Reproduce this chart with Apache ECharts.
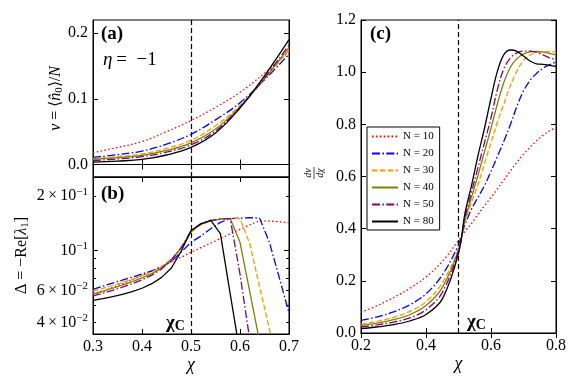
<!DOCTYPE html>
<html>
<head>
<meta charset="utf-8">
<script src="https://cdn.jsdelivr.net/npm/echarts@6/dist/echarts.min.js"></script>
<style>
  html, body { margin: 0; padding: 0; background: #fff; }
  #chart { width: 581px; height: 388px; }
</style>
</head>
<body>
<div id="chart"></div>
<script>
// critical point chi_c
const chiCrit = 0.5

// panel (a): nu = <n0>/N vs chi
const chiA = [0.30, 0.35, 0.40, 0.45, 0.50, 0.55, 0.60, 0.65, 0.70]
const nuA10 = [0.018, 0.026, 0.035, 0.050, 0.067, 0.087, 0.110, 0.139, 0.172]
const nuA20 = [0.011, 0.015, 0.0205, 0.031, 0.046, 0.068, 0.094, 0.129, 0.168]
const nuA30 = [0.009, 0.012, 0.016, 0.0245, 0.037, 0.059, 0.090, 0.130, 0.174]
const nuA40 = [0.008, 0.0105, 0.014, 0.0215, 0.033, 0.054, 0.088, 0.131, 0.178]
const nuA50 = [0.006, 0.0085, 0.012, 0.019, 0.030, 0.051, 0.087, 0.132, 0.182]
const nuA80 = [0.0036, 0.0052, 0.0077, 0.0145, 0.026, 0.048, 0.086, 0.135, 0.190]

// panel (b): gap Delta = -Re[lambda_1] vs chi (log axis)
const chiB = [0.30, 0.32, 0.34, 0.36, 0.38, 0.40, 0.42, 0.44, 0.46, 0.48, 0.50,
  0.52, 0.54, 0.56, 0.58, 0.60, 0.62, 0.64, 0.66, 0.68, 0.70]
const gapB10 = [0.0565, 0.0593, 0.0623, 0.0655, 0.0690, 0.0728, 0.0770, 0.0818, 0.0868, 0.0917, 0.0977,
  0.1036, 0.1098, 0.1164, 0.1235, 0.1309, 0.1388, 0.1460, 0.1455, 0.1440, 0.1425]
const gapB20 = [0.0610, 0.0635, 0.0660, 0.0685, 0.0712, 0.0740, 0.0772, 0.0810, 0.0870, 0.0980, 0.1110,
  0.1200, 0.1320, 0.1430, 0.1500, 0.1510, 0.1520, 0.1510, 0.1110, 0.0710, 0.0450]
const gapB30 = [0.0595, 0.0617, 0.0640, 0.0665, 0.0693, 0.0725, 0.0762, 0.0812, 0.0895, 0.1030, 0.1260,
  0.1390, 0.1455, 0.1490, 0.1500, 0.1500, 0.1090, 0.0630, 0.0367, 0.0210]
const gapB40 = [0.0575, 0.0595, 0.0618, 0.0643, 0.0672, 0.0705, 0.0745, 0.0800, 0.0890, 0.1030, 0.1270,
  0.1400, 0.1460, 0.1490, 0.1505, 0.1110, 0.0590, 0.0313]
const gapB50 = [0.0560, 0.0580, 0.0602, 0.0627, 0.0655, 0.0688, 0.0730, 0.0790, 0.0885, 0.1040, 0.1280,
  0.1410, 0.1465, 0.1495, 0.1500, 0.0740, 0.0320]
const gapB80 = [0.0530, 0.0542, 0.0556, 0.0572, 0.0592, 0.0618, 0.0655, 0.0710, 0.0800, 0.0990, 0.1290,
  0.1400, 0.1470, 0.1240, 0.0575, 0.0270]

// panel (c): d nu / d chi vs chi
const chiC = [0.20, 0.25, 0.30, 0.35, 0.40, 0.45, 0.50, 0.52, 0.54, 0.56, 0.58,
  0.60, 0.62, 0.64, 0.66, 0.68, 0.70, 0.72, 0.74, 0.76, 0.78, 0.80]
const dnuC10 = [0.080, 0.105, 0.136, 0.171, 0.215, 0.274, 0.355, 0.390, 0.420, 0.455, 0.488,
  0.520, 0.553, 0.588, 0.622, 0.655, 0.685, 0.712, 0.737, 0.758, 0.775, 0.787]
const dnuC20 = [0.048, 0.062, 0.081, 0.108, 0.150, 0.222, 0.338, 0.415, 0.475, 0.520, 0.565,
  0.620, 0.678, 0.737, 0.800, 0.870, 0.928, 0.968, 0.995, 1.015, 1.028, 1.040]
const dnuC30 = [0.034, 0.045, 0.060, 0.083, 0.120, 0.192, 0.322, 0.425, 0.500, 0.570, 0.650,
  0.730, 0.810, 0.880, 0.950, 1.005, 1.045, 1.065, 1.075, 1.078, 1.079, 1.077]
const dnuC40 = [0.029, 0.038, 0.051, 0.070, 0.105, 0.174, 0.318, 0.435, 0.520, 0.605, 0.695,
  0.785, 0.880, 0.962, 1.020, 1.052, 1.070, 1.078, 1.080, 1.077, 1.072, 1.066]
const dnuC50 = [0.023, 0.031, 0.042, 0.058, 0.089, 0.155, 0.314, 0.445, 0.540, 0.635, 0.730,
  0.825, 0.935, 1.015, 1.055, 1.074, 1.081, 1.081, 1.076, 1.066, 1.055, 1.047]
const dnuC80 = [0.0165, 0.023, 0.032, 0.046, 0.071, 0.130, 0.305, 0.460, 0.565, 0.680, 0.785,
  0.900, 1.005, 1.068, 1.085, 1.080, 1.062, 1.043, 1.032, 1.030, 1.026, 1.022]

// tick values
const ticksA = [0, 0.1, 0.2]
const ticksBMajor = [0.1]
const ticksBMinor = [0.04, 0.05, 0.06, 0.07, 0.08, 0.09, 0.2]
const labelsB = [0.04, 0.06, 0.1, 0.2]

const sizes = ['N = 10', 'N = 20', 'N = 30', 'N = 40', 'N = 50', 'N = 80']
const lineLooks = [
  { color: '#ff0000', type: [1.5, 2.4] },
  { color: '#0000ff', type: [8, 2.4, 1.5, 2.4] },
  { color: '#ff9900', type: [5.5, 2.4] },
  { color: '#808000', type: 'solid' },
  { color: '#800080', type: [8, 2.4, 1.5, 2.4] },
  { color: '#000000', type: 'solid' }
]

const FONT = 'Liberation Serif'
const black = '#000'

const chart = echarts.init(document.getElementById('chart'), null, { renderer: 'canvas' })

const pairs = (xs, ys) => ys.map((y, i) => [xs[i], y])

// tick labels go through rich text so the serif face is surely used
const tickRich = { t: { fontFamily: FONT, fontSize: 16, color: black, lineHeight: 19 } }
const tickFmt = v => '{t|' + v.toFixed(1) + '}'
const tickLabel = extra => Object.assign({
  margin: 5, formatter: tickFmt, fontFamily: FONT, fontSize: 16, color: black, rich: tickRich
}, extra)

const xAxisBase = (grid, pos, min, max, step, showLabel, name) => ({
  type: 'value', gridIndex: grid, position: pos, min, max, interval: step,
  axisLine: { lineStyle: { color: black, width: 1 } },
  axisTick: { inside: true, length: 5, lineStyle: { color: black } },
  axisLabel: tickLabel({ show: showLabel, margin: 3 }),
  splitLine: { show: false },
  name: name ? '{x|' + name + '}' : '', nameLocation: 'middle', nameGap: 22, nameMoveOverlap: false,
  nameTextStyle: {
    fontFamily: FONT, fontSize: 18, fontStyle: 'italic', color: black,
    rich: { x: { fontFamily: FONT, fontSize: 18, fontStyle: 'italic', color: black } }
  }
})

const logLabel = v => {
  const e = Math.floor(Math.log10(v) + 1e-9)
  const m = Math.round(v / Math.pow(10, e))
  const head = m === 1 ? '10' : m + '\u2009×\u200910'
  return '{m|' + head + '}{p|−' + (-e) + '}'
}

const logAxis = (pos, ticks, tickLen, labels) => ({
  type: 'log', logBase: 10, gridIndex: 1, position: pos, min: 0.0345, max: 0.255,
  axisLine: { lineStyle: { color: black, width: 1 } },
  axisTick: { inside: true, length: tickLen, customValues: ticks, lineStyle: { color: black } },
  axisLabel: labels ? {
    show: true, margin: 5, customValues: labels, formatter: logLabel,
    fontFamily: FONT, fontSize: 16, color: black,
    rich: {
      m: { fontFamily: FONT, fontSize: 16, color: black, lineHeight: 19 },
      p: { fontFamily: FONT, fontSize: 11, color: black, verticalAlign: 'top', lineHeight: 19, padding: [0, 0, 6, 0] }
    }
  } : { show: false },
  splitLine: { show: false },
  minorTick: { show: false }
})

const nameRich = {
  i: { fontFamily: FONT, fontSize: 16, fontStyle: 'italic', color: black, lineHeight: 19 },
  n: { fontFamily: FONT, fontSize: 16, color: black, lineHeight: 19 },
  s: { fontFamily: FONT, fontSize: 11, color: black, verticalAlign: 'bottom', lineHeight: 19 }
}

const option = {
  animation: false,
  backgroundColor: '#fff',
  textStyle: { fontFamily: FONT },
  grid: [
    { left: 93, top: 20, width: 196, height: 157, show: true, borderColor: black, borderWidth: 1 },
    { left: 93, top: 177, width: 196, height: 157, show: true, borderColor: black, borderWidth: 1 },
    { left: 361, top: 20, width: 195, height: 313, show: true, borderColor: black, borderWidth: 1 }
  ],
  legend: {
    data: sizes, orient: 'vertical', left: 367, top: 127,
    itemWidth: 26, itemHeight: 10, itemGap: 6,
    padding: [4, 6, 3, 4],
    backgroundColor: '#fff', borderColor: black, borderWidth: 1, borderRadius: 0,
    itemStyle: { color: 'rgba(0,0,0,0)', borderColor: 'rgba(0,0,0,0)', borderWidth: 0 },
    textStyle: { fontFamily: FONT, fontSize: 11, color: black },
    selectedMode: false
  },
  xAxis: [
    xAxisBase(0, 'bottom', 0.3, 0.7, 0.1, false),
    xAxisBase(0, 'top', 0.3, 0.7, 0.1, false),
    xAxisBase(1, 'bottom', 0.3, 0.7, 0.1, true, 'χ'),
    xAxisBase(1, 'top', 0.3, 0.7, 0.1, false),
    xAxisBase(2, 'bottom', 0.2, 0.8, 0.2, true, 'χ'),
    xAxisBase(2, 'top', 0.2, 0.8, 0.2, false)
  ],
  yAxis: [
    {
      type: 'value', gridIndex: 0, position: 'left', min: -0.019, max: 0.22,
      axisLine: { lineStyle: { color: black } },
      axisTick: { inside: true, length: 5, customValues: ticksA, lineStyle: { color: black } },
      axisLabel: tickLabel({ customValues: ticksA }),
      splitLine: { show: false },
      name: '{i|ν}{n| = ⟨}{i|n̂}{s|0}{n|⟩/}{i|N}', nameLocation: 'middle', nameRotate: 90,
      nameGap: 28, nameMoveOverlap: false,
      nameTextStyle: { fontFamily: FONT, fontSize: 16, color: black, rich: nameRich }
    },
    {
      type: 'value', gridIndex: 0, position: 'right', min: -0.019, max: 0.22,
      axisLine: { lineStyle: { color: black } },
      axisTick: { inside: true, length: 5, customValues: ticksA, lineStyle: { color: black } },
      axisLabel: { show: false }, splitLine: { show: false }
    },
    Object.assign(logAxis('left', ticksBMajor, 5, labelsB), {
      name: '{n|Δ = −Re[}{i|λ}{s|1}{n|]}', nameLocation: 'middle', nameRotate: 90,
      nameGap: 62, nameMoveOverlap: false,
      nameTextStyle: { fontFamily: FONT, fontSize: 16, color: black, rich: nameRich }
    }),
    logAxis('left', ticksBMinor, 3, null),
    logAxis('right', ticksBMajor, 5, null),
    logAxis('right', ticksBMinor, 3, null),
    {
      type: 'value', gridIndex: 2, position: 'left', min: 0, max: 1.2, interval: 0.2,
      axisLine: { lineStyle: { color: black } },
      axisTick: { inside: true, length: 5, lineStyle: { color: black } },
      axisLabel: tickLabel({}),
      splitLine: { show: false }
    },
    {
      type: 'value', gridIndex: 2, position: 'right', min: 0, max: 1.2, interval: 0.2,
      axisLine: { lineStyle: { color: black } },
      axisTick: { inside: true, length: 5, lineStyle: { color: black } },
      axisLabel: { show: false }, splitLine: { show: false }
    }
  ],
  series: [],
  graphic: [
    { type: 'text', x: 101, y: 34, style: { text: '(a)', fontFamily: FONT, fontSize: 19, fontWeight: 'bold', fill: black, verticalAlign: 'middle' } },
    {
      type: 'text', x: 103, y: 60,
      style: {
        text: '{i|η}{n|\u2009=\u2002−1}', verticalAlign: 'middle', fill: black,
        rich: {
          i: { fontFamily: FONT, fontSize: 19, fontStyle: 'italic', fill: black },
          n: { fontFamily: FONT, fontSize: 19, fill: black }
        }
      }
    },
    { type: 'text', x: 101, y: 194, style: { text: '(b)', fontFamily: FONT, fontSize: 19, fontWeight: 'bold', fill: black, verticalAlign: 'middle' } },
    { type: 'text', x: 370, y: 34, style: { text: '(c)', fontFamily: FONT, fontSize: 19, fontWeight: 'bold', fill: black, verticalAlign: 'middle' } },
    {
      type: 'text', x: 166, y: 323,
      style: {
        text: '{x|χ}{c|C}', verticalAlign: 'middle', fill: black,
        rich: {
          x: { fontFamily: FONT, fontSize: 19, fontWeight: 'bold', lineHeight: 20, fill: black },
          c: { fontFamily: FONT, fontSize: 14, fontWeight: 'bold', lineHeight: 20, verticalAlign: 'bottom', fill: black }
        }
      }
    },
    {
      type: 'text', x: 467, y: 322,
      style: {
        text: '{x|χ}{c|C}', verticalAlign: 'middle', fill: black,
        rich: {
          x: { fontFamily: FONT, fontSize: 19, fontWeight: 'bold', lineHeight: 20, fill: black },
          c: { fontFamily: FONT, fontSize: 14, fontWeight: 'bold', lineHeight: 20, verticalAlign: 'bottom', fill: black }
        }
      }
    },
    {
      type: 'group', x: 314, y: 173, rotation: Math.PI / 2,
      children: [
        { type: 'text', x: 0, y: -1, style: { text: 'dν', fontFamily: FONT, fontSize: 10, fontStyle: 'italic', fill: black, align: 'center', verticalAlign: 'bottom' } },
        { type: 'line', shape: { x1: -6, y1: 0, x2: 6, y2: 0 }, style: { stroke: black, lineWidth: 0.7 } },
        { type: 'text', x: 0, y: 1, style: { text: 'dχ', fontFamily: FONT, fontSize: 10, fontStyle: 'italic', fill: black, align: 'center', verticalAlign: 'top' } }
      ]
    }
  ]
}

const critLine = {
  silent: true, symbol: ['none', 'none'], animation: false,
  label: { show: false },
  lineStyle: { color: black, type: [5, 3], width: 1.2 },
  data: [{ xAxis: chiCrit }]
}

const panels = [
  { xs: chiA, sets: [nuA10, nuA20, nuA30, nuA40, nuA50, nuA80], xi: 0, yi: 0, smooth: 0.4 },
  { xs: chiB, sets: [gapB10, gapB20, gapB30, gapB40, gapB50, gapB80], xi: 2, yi: 2, smooth: false },
  { xs: chiC, sets: [dnuC10, dnuC20, dnuC30, dnuC40, dnuC50, dnuC80], xi: 4, yi: 6, smooth: 0.35 }
]

panels.forEach(p => {
  p.sets.forEach((ys, k) => {
    option.series.push({
      name: sizes[k], type: 'line', xAxisIndex: p.xi, yAxisIndex: p.yi,
      data: pairs(p.xs, ys), symbol: 'none', showSymbol: false,
      smooth: p.smooth, clip: true,
      lineStyle: { color: lineLooks[k].color, type: lineLooks[k].type, width: 1.3 },
      itemStyle: { color: lineLooks[k].color },
      markLine: k === 0 ? critLine : undefined,
      z: 2 + k
    })
  })
})

chart.setOption(option)
</script>
</body>
</html>
